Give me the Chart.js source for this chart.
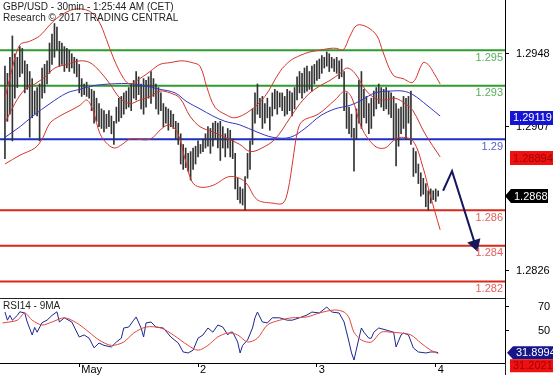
<!DOCTYPE html>
<html>
<head>
<meta charset="utf-8">
<script src="https://cdn.jsdelivr.net/npm/chart.js@4.4.1/dist/chart.umd.min.js"></script>
<style>
  html, body { margin: 0; padding: 0; background: #fff; }
  #wrap { position: relative; width: 553px; height: 375px; overflow: hidden; }
  canvas { position: absolute; left: 0; }
  #priceChart { top: 0; }
  #rsiChart { top: 298px; }
</style>
</head>
<body>
<div id="wrap">
  <canvas id="priceChart" width="553" height="298"></canvas>
  <canvas id="rsiChart" width="553" height="77"></canvas>
</div>
<script>
const titleLine1 = 'GBP/USD - 30min - 1:25:44 AM (CET)';
const titleLine2 = 'Research \u00a9 2017 TRADING CENTRAL';

// 30min bars, index 0 = first bar on the left
const highs = [
  1.2941,1.2937,1.2946,1.2958,1.2948,1.2946,1.2952,1.2951,1.2944,1.2942,
  1.2938,1.2934,1.2927,1.2929,1.2931,1.2940,1.2942,1.2944,1.2954,1.2959,
  1.2965,1.2963,1.2955,1.2954,1.2952,1.2951,1.2950,1.2948,1.2946,1.2945,
  1.2942,1.2934,1.2931,1.2932,1.2929,1.2928,1.2927,1.2923,1.2920,1.2917,
  1.2916,1.2914,1.2916,1.2913,1.2910,1.2918,1.2923,1.2924,1.2926,1.2927,
  1.2929,1.2931,1.2933,1.2938,1.2935,1.2931,1.2934,1.2933,1.2935,1.2938,
  1.2934,1.2931,1.2929,1.2926,1.2920,1.2918,1.2917,1.2916,1.2914,1.2910,
  1.2909,1.2903,1.2897,1.2895,1.2892,1.2893,1.2895,1.2896,1.2899,1.2897,
  1.2900,1.2903,1.2907,1.2906,1.2909,1.2910,1.2909,1.2910,1.2907,1.2903,
  1.2906,1.2905,1.2900,1.2892,1.2878,1.2873,1.2872,1.2879,1.2892,1.2899,
  1.2917,1.2926,1.2931,1.2923,1.2924,1.2920,1.2923,1.2918,1.2926,1.2928,
  1.2927,1.2926,1.2926,1.2924,1.2928,1.2927,1.2926,1.2929,1.2935,1.2938,
  1.2937,1.2940,1.2941,1.2938,1.2941,1.2942,1.2944,1.2945,1.2947,1.2946,
  1.2949,1.2948,1.2946,1.2945,1.2946,1.2944,1.2945,1.2938,1.2926,1.2918,
  1.2914,1.2906,1.2917,1.2933,1.2938,1.2928,1.2924,1.2920,1.2923,1.2927,
  1.2929,1.2931,1.2929,1.2928,1.2929,1.2927,1.2926,1.2924,1.2920,1.2917,
  1.2918,1.2924,1.2923,1.2924,1.2927,1.2895,1.2893,1.2886,1.2881,1.2878,
  1.2875,1.2871,1.2872,1.2871,1.2872,1.2871
];
const lows = [
  1.2889,1.2910,1.2914,1.2899,1.2923,1.2929,1.2935,1.2937,1.2926,1.2928,
  1.2901,1.2912,1.2914,1.2913,1.2899,1.2923,1.2926,1.2931,1.2937,1.2942,
  1.2946,1.2950,1.2941,1.2942,1.2938,1.2940,1.2938,1.2940,1.2937,1.2935,
  1.2926,1.2924,1.2925,1.2924,1.2923,1.2916,1.2909,1.2910,1.2907,1.2906,
  1.2904,1.2906,1.2907,1.2903,1.2897,1.2909,1.2910,1.2912,1.2914,1.2917,
  1.2918,1.2916,1.2923,1.2922,1.2925,1.2917,1.2914,1.2918,1.2923,1.2920,
  1.2924,1.2917,1.2914,1.2916,1.2907,1.2909,1.2905,1.2907,1.2906,1.2900,
  1.2897,1.2886,1.2883,1.2884,1.2882,1.2877,1.2883,1.2886,1.2890,1.2892,
  1.2893,1.2895,1.2896,1.2892,1.2896,1.2900,1.2895,1.2888,1.2895,1.2890,
  1.2895,1.2890,1.2889,1.2872,1.2866,1.2864,1.2863,1.2860,1.2878,1.2883,
  1.2897,1.2909,1.2914,1.2912,1.2906,1.2909,1.2912,1.2905,1.2913,1.2917,
  1.2914,1.2918,1.2916,1.2913,1.2914,1.2916,1.2913,1.2917,1.2922,1.2926,
  1.2923,1.2926,1.2927,1.2928,1.2927,1.2931,1.2933,1.2934,1.2937,1.2940,
  1.2941,1.2938,1.2940,1.2938,1.2937,1.2934,1.2935,1.2916,1.2906,1.2903,
  1.2901,1.2882,1.2900,1.2909,1.2906,1.2912,1.2909,1.2903,1.2906,1.2913,
  1.2917,1.2920,1.2918,1.2916,1.2917,1.2914,1.2912,1.2900,1.2885,1.2896,
  1.2903,1.2906,1.2900,1.2909,1.2897,1.2879,1.2881,1.2875,1.2868,1.2869,
  1.2862,1.2860,1.2864,1.2866,1.2865,1.2868
];

// Bollinger bands and moving average, [bar index, price]
const bandUpper = [[0,1.2923],[3,1.2940],[6,1.2953],[10,1.2955],[14,1.2958],[18,1.2964],[22,1.2969],[28,1.2973],[34,1.2972],[38,1.2966],[41,1.2956],[44,1.2945],[48,1.2934],[50.5,1.2931],[54.5,1.2934],[58.6,1.2938],[62.6,1.2942],[66.7,1.2943],[71.5,1.2944],[75.6,1.2943],[78.8,1.2941],[81.6,1.2929],[84.8,1.2918],[88.9,1.2914],[92.9,1.2912],[99,1.2916],[105,1.2924],[111.1,1.2938],[115.2,1.2944],[119.2,1.2947],[123.2,1.2949],[127.3,1.2950],[131.3,1.2951],[134.1,1.2951],[136.6,1.2950],[139.4,1.2958],[142.2,1.2964],[146.3,1.2963],[150.3,1.2958],[152.7,1.2949],[156.8,1.2936],[160.8,1.2934],[164.8,1.2932],[168.9,1.2943],[170.9,1.2942],[172.9,1.2938],[175.8,1.2931]];
const bandMiddle = [[0,1.2909],[4,1.2920],[8.1,1.2928],[12.1,1.2931],[16.2,1.2935],[20.2,1.2940],[25.1,1.2942],[30.3,1.2944],[34.3,1.2943],[38.4,1.2938],[42.4,1.2931],[46.5,1.2923],[50.5,1.2920],[54.5,1.2922],[58.6,1.2924],[62.6,1.2927],[66.7,1.2926],[70.7,1.2923],[74.7,1.2913],[78.8,1.2907],[84,1.2904],[88.9,1.2901],[94.9,1.2897],[99,1.2893],[103.8,1.2895],[109.1,1.2900],[115.2,1.2912],[119.2,1.2920],[123.2,1.2926],[127.3,1.2930],[131.3,1.2933],[135.4,1.2937],[138.2,1.2940],[141.4,1.2937],[145.5,1.2928],[149.5,1.2923],[153.5,1.2922],[157.6,1.2923],[161.6,1.2920],[164.8,1.2916],[169.7,1.2903],[175.8,1.2890]];
const bandLower = [[0,1.2886],[6.1,1.2891],[12.1,1.2895],[15,1.2900],[18.2,1.2909],[22.2,1.2913],[26.3,1.2916],[30.3,1.2919],[33.1,1.2922],[35.6,1.2916],[38.4,1.2903],[41.6,1.2897],[44.4,1.2895],[47.3,1.2897],[50.5,1.2900],[58.6,1.2900],[63.4,1.2906],[66.7,1.2908],[69.9,1.2903],[72.7,1.2889],[75.6,1.2876],[78.8,1.2873],[84,1.2874],[90.9,1.2879],[97,1.2876],[101.8,1.2866],[108.3,1.2864],[112.3,1.2864],[114.3,1.2871],[116.4,1.2889],[118,1.2903],[120,1.2910],[126.5,1.2914],[133.3,1.2922],[137.4,1.2927],[140.2,1.2923],[144.2,1.2906],[149.5,1.2896],[153.5,1.2895],[156.8,1.2899],[159.6,1.2901],[164.8,1.2899],[168.9,1.2884],[171.7,1.2869],[175.8,1.2849]];
const movingAvg = [[0,1.2901],[6.1,1.2907],[11.3,1.2913],[18.2,1.2920],[25.1,1.2926],[30.3,1.2928],[35.6,1.2930],[42.4,1.2931],[51.7,1.2931],[62.6,1.2928],[68.7,1.2926],[73.5,1.2921],[78.8,1.2917],[84,1.2913],[88.9,1.2910],[94.9,1.2908],[101.8,1.2904],[108.3,1.2901],[115.2,1.2901],[121.2,1.2906],[127.3,1.2913],[133.3,1.2917],[139.4,1.2919],[144.2,1.2922],[149.5,1.2926],[155.6,1.2927],[160.8,1.2927],[164.8,1.2925],[170.5,1.2919],[175.8,1.2913]];

// support / resistance levels
const levelValues = [1.295, 1.293, 1.29, 1.286, 1.284, 1.282];
const levelLabels = ['1.295', '1.293', '1.29', '1.286', '1.284', '1.282'];
const levelKinds = ['res', 'res', 'pivot', 'sup', 'sup', 'sup'];

// projected path
const arrowPath = [[177, 1.2871], [180.6, 1.2882], [189.9, 1.2841]];

const priceTicks = [1.2948, 1.2907, 1.2826];
const maTag = 1.29119, bandTag = 1.28894, priceTag = 1.2868;

// RSI panel, [bar index, value]
const rsiLine = [[0,65.8],[1,59],[2,63],[3,59],[5,63],[6,66],[8,65],[9,57.5],[11,46.7],[12,53],[13,49],[15,57],[17,59],[19,63],[21,66],[22,57.5],[24,61],[27,57.5],[30,45],[32,46.7],[34,44],[36,36],[38,40],[40,38],[43,36.7],[45,40.8],[47,44],[48,52.5],[50,53.3],[52,59],[53,61.7],[55,52.5],[56,45],[57,56.7],[59,57.5],[61,53.3],[64,52.5],[67,45],[70,40],[72,32.5],[74,31.7],[76,34],[78,44],[80,46.7],[82,52.5],[84,49],[86,55],[88,53.3],[90,46.7],[91,49],[92,49],[94,40.8],[95,31.7],[96,38],[98,42.5],[100,52.5],[101,61],[102,65.8],[104,57.5],[106,56.7],[108,61],[111,61],[114,59],[116,59],[119,61],[122,63.3],[124,65.8],[127,65],[130,70],[132,65.8],[135,65],[137,57.5],[139,40.8],[140,31.7],[141,25.8],[143,44],[144,52.5],[145,49],[147,44],[148,44],[149,49],[151,52.5],[154,50.8],[157,49],[158,36.7],[160,46.7],[161,48.3],[163,46.7],[165,35.8],[167,32.5],[170,31.7],[172,32.5],[174,32.5],[175,31.9]];
const rsiMa = [[-1,56.7],[5,59],[8,65],[11,59],[15,55],[19,57.5],[24,61],[29,56.7],[34,49],[38,42.5],[43,38],[48,40.8],[52,48.3],[57,53.3],[63,52.5],[68,46.7],[74,38],[78,34],[82,38],[86,45],[90,48.3],[94,46.7],[98,40.8],[102,44],[106,55],[111,59],[116,61],[122,61.7],[127,65],[133,67.5],[137,65.8],[139,61],[141,49],[144,42.5],[148,40.8],[152,49],[156,49],[160,48.3],[164,46.7],[168,40],[172,34],[175,31.2]];
const rsiTicks = [70, 50];
const rsiTag = 31.8994, rsiMaTag = 31.2021;

// day separators on the time axis
const dayTicks = [30, 78, 126, 174];
const dayLabels = ['May', '2', '3', '4'];

const FAMILY = '"Liberation Sans", Arial, sans-serif';
const FONT = '11px ' + FAMILY;
const lineColors = { res: '#2e9b2e', pivot: '#1b2fc4', sup: '#d8291b' };
const textColors = { res: '#5aac5a', pivot: '#5862c8', sup: '#e0625c' };
const xMin = -2, xMax = 202;

function pts(list) { return list.map(p => ({ x: p[0], y: p[1] })); }

function drawTag(ctx, x, y, w, h, bg, fg, text, arrow) {
  ctx.fillStyle = bg;
  ctx.beginPath();
  if (arrow) {
    ctx.moveTo(x - 6, y);
    ctx.lineTo(x, y - h / 2);
    ctx.lineTo(x + w, y - h / 2);
    ctx.lineTo(x + w, y + h / 2);
    ctx.lineTo(x, y + h / 2);
    ctx.closePath();
  } else {
    ctx.rect(x, y - h / 2, w, h);
  }
  ctx.fill();
  ctx.fillStyle = fg;
  ctx.textAlign = 'left';
  ctx.textBaseline = 'middle';
  ctx.fillText(text, x + 3, y + 0.5);
}

const priceOverlay = {
  id: 'priceOverlay',
  afterDraw(chart) {
    const { ctx, chartArea, scales } = chart;
    const ys = scales.y;
    ctx.save();
    ctx.font = '10px ' + FAMILY;
    ctx.fillStyle = '#222';
    ctx.textAlign = 'left';
    ctx.textBaseline = 'middle';
    ctx.fillText(titleLine1, 3, 7);
    ctx.fillText(titleLine2, 3, 18);

    ctx.font = FONT;
    ctx.textAlign = 'right';
    ctx.textBaseline = 'top';
    levelValues.forEach((v, i) => {
      ctx.fillStyle = textColors[levelKinds[i]];
      ctx.fillText(levelLabels[i], chartArea.right - 2, ys.getPixelForValue(v) + 2);
    });

    drawTag(ctx, 510, ys.getPixelForValue(maTag), 43, 14, '#1414d2', '#fff', maTag.toFixed(5), false);
    drawTag(ctx, 510, ys.getPixelForValue(bandTag), 43, 14, '#ee1111', '#a50000', bandTag.toFixed(5), false);
    drawTag(ctx, 511, ys.getPixelForValue(priceTag), 37, 14, '#000', '#fff', priceTag.toFixed(4), true);
    ctx.restore();
  }
};

const rsiOverlay = {
  id: 'rsiOverlay',
  afterDraw(chart) {
    const { ctx, chartArea, scales } = chart;
    const ys = scales.y;
    ctx.save();
    ctx.strokeStyle = '#222';
    ctx.lineWidth = 1;
    ctx.beginPath();
    ctx.moveTo(0, 0.5);
    ctx.lineTo(chartArea.right, 0.5);
    ctx.moveTo(chartArea.right + 0.5, chartArea.bottom);
    ctx.lineTo(chartArea.right + 0.5, chart.height);
    ctx.stroke();

    ctx.font = '10px ' + FAMILY;
    ctx.fillStyle = '#222';
    ctx.textAlign = 'left';
    ctx.textBaseline = 'middle';
    ctx.fillText('RSI14 - 9MA', 3, 8);

    ctx.font = FONT;
    drawTag(ctx, 513, ys.getPixelForValue(rsiTag), 40, 13, '#16168a', '#fff', rsiTag.toFixed(4), true);
    drawTag(ctx, 510, ys.getPixelForValue(rsiTag) + 13, 43, 13, '#ee1111', '#a50000', rsiMaTag.toFixed(4), false);
    ctx.restore();
  }
};

function rightAxis(min, max, ticks, padding, digits) {
  return {
    position: 'right',
    min: min,
    max: max,
    border: { display: true, color: '#000', width: 1 },
    grid: { drawOnChartArea: false, drawTicks: true, tickLength: 4, color: '#000' },
    ticks: {
      color: '#000', font: { family: FAMILY, size: 11 }, padding: padding,
      callback: v => v.toFixed(digits)
    },
    afterBuildTicks: s => { s.ticks = ticks.map(v => ({ value: v })); },
    afterFit: s => { s.width = 48; s.paddingTop = 0; s.paddingBottom = 0; }
  };
}

const levelSets = levelValues.map((v, i) => ({
  type: 'line',
  data: [{ x: xMin, y: v }, { x: xMax, y: v }],
  borderColor: lineColors[levelKinds[i]],
  borderWidth: 2,
  pointRadius: 0,
  order: 4
}));

function curve(list, color) {
  return {
    type: 'line',
    data: pts(list),
    borderColor: color,
    borderWidth: 1,
    pointRadius: 0,
    tension: 0.35,
    order: 1
  };
}

new Chart(document.getElementById('priceChart'), {
  type: 'line',
  data: {
    datasets: [
      ...levelSets,
      curve(bandUpper, '#d6362c'),
      curve(bandMiddle, '#c8342c'),
      curve(bandLower, '#d6362c'),
      curve(movingAvg, '#3236c4'),
      {
        type: 'bar',
        data: highs.map((h, i) => ({ x: i, y: [lows[i], h] })),
        backgroundColor: '#333',
        barThickness: 1,
        order: 2
      },
      {
        type: 'line',
        data: pts(arrowPath),
        borderColor: '#17175c',
        backgroundColor: '#17175c',
        borderWidth: 2,
        pointStyle: 'triangle',
        pointRadius: [0, 0, 6],
        pointRotation: [0, 0, 162],
        tension: 0,
        order: 0
      }
    ]
  },
  options: {
    responsive: false,
    animation: false,
    layout: { padding: 0, autoPadding: false },
    plugins: { legend: { display: false }, tooltip: { enabled: false } },
    scales: {
      x: { type: 'linear', min: xMin, max: xMax, offset: false, display: false },
      y: rightAxis(1.28107, 1.29782, priceTicks, 7, 4)
    }
  },
  plugins: [priceOverlay]
});

new Chart(document.getElementById('rsiChart'), {
  type: 'line',
  data: {
    datasets: [
      { data: pts(rsiMa), borderColor: '#e2463c', borderWidth: 1, pointRadius: 0, tension: 0.3 },
      { data: pts(rsiLine), borderColor: '#1c2690', borderWidth: 1, pointRadius: 0, tension: 0 }
    ]
  },
  options: {
    responsive: false,
    animation: false,
    layout: { padding: 0, autoPadding: false },
    plugins: { legend: { display: false }, tooltip: { enabled: false } },
    scales: {
      x: {
        type: 'linear', min: xMin, max: xMax, offset: false,
        border: { display: true, color: '#000', width: 1 },
        grid: { drawOnChartArea: false, drawTicks: true, tickLength: 4, color: '#000' },
        ticks: {
          color: '#000', font: { family: FAMILY, size: 11 },
          align: 'start', labelOffset: 2, padding: -4, autoSkip: false, maxRotation: 0,
          callback: v => dayLabels[dayTicks.indexOf(v)]
        },
        afterBuildTicks: s => { s.ticks = dayTicks.map(v => ({ value: v })); },
        afterFit: s => { s.height = 12; s.paddingLeft = 0; s.paddingRight = 0; }
      },
      y: rightAxis(23.33, 77.5, rsiTicks, 29, 0)
    }
  },
  plugins: [rsiOverlay]
});
</script>
</body>
</html>
